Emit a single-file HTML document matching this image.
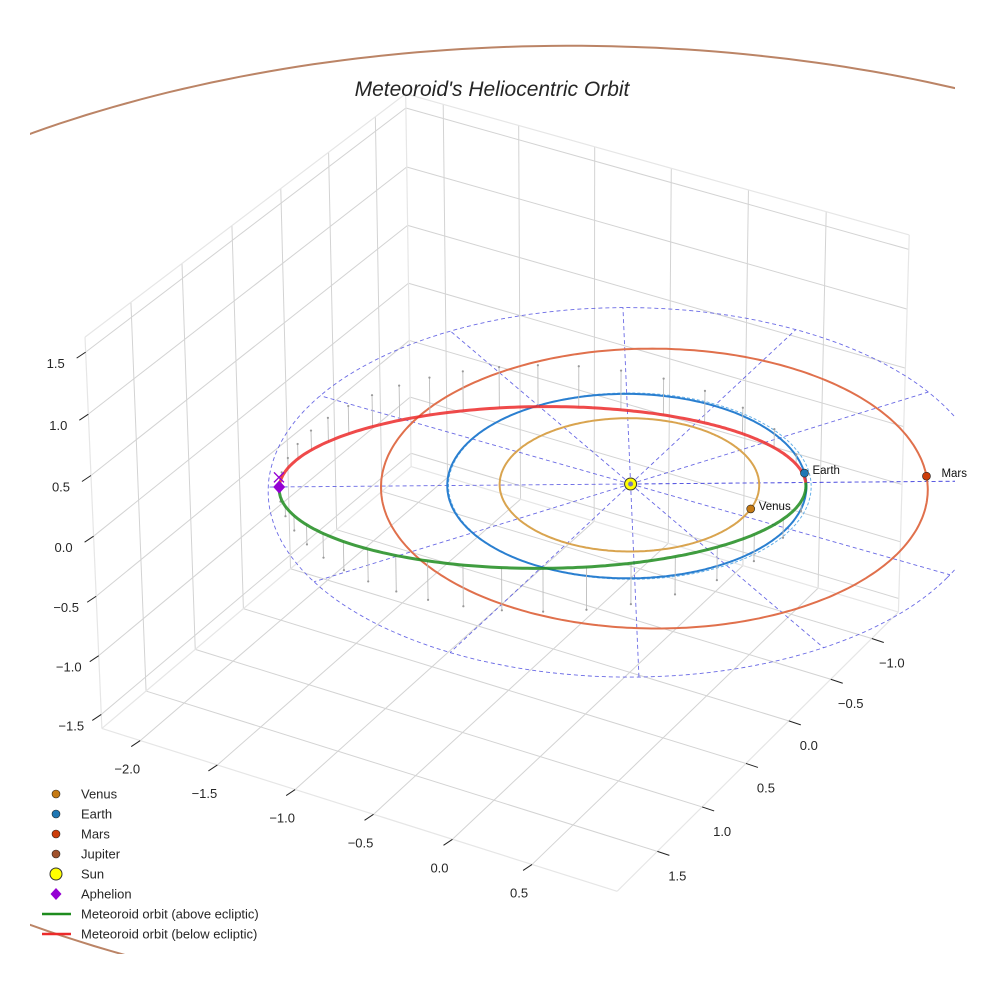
<!DOCTYPE html>
<html>
<head>
<meta charset="utf-8">
<style>
  html,body{margin:0;padding:0;background:#fff;overflow:hidden;}
  svg{display:block;font-family:"Liberation Sans",sans-serif;}
</style>
</head>
<body>
<svg id="chart" width="984" height="984" viewBox="0 0 984 984" xmlns="http://www.w3.org/2000/svg">
  <defs>
    <clipPath id="plotclip"><rect x="30" y="40" width="925" height="914"/></clipPath>
  </defs>
  <rect width="984" height="984" fill="#fff"/>
  <g id="grid"></g>
  <g id="axes"></g>
  <g id="scene" clip-path="url(#plotclip)"></g>
  <g id="labels"></g>
  <text x="492" y="96" text-anchor="middle" font-size="21" font-style="italic" fill="#262626">Meteoroid's Heliocentric Orbit</text>
  <g id="legend"></g>
</svg>
<script>
// ---- data ----
const xTicks = [-2.0, -1.5, -1.0, -0.5, 0.0, 0.5];
const yTicks = [-1.0, -0.5, 0.0, 0.5, 1.0, 1.5];
const zTicks = [-1.5, -1.0, -0.5, 0.0, 0.5, 1.0, 1.5];
const xLim = [-2.25, 1.03];
const yLim = [-1.33, 1.94];
const zLim = [-1.62, 1.62];

const planetNames = ["Venus", "Earth", "Mars", "Jupiter"];
const planetA = [0.723, 1.0, 1.524, 5.2];
const planetE = [0.0068, 0.0167, 0.0934, 0.048];
const planetPeri = [0, -31, 149, 0];        // longitude of perihelion (deg)
const planetAngle = [-8, -37, -33, 60];     // current heliocentric longitude (deg)
const planetLabeled = [true, true, true, false];
const planetMarker = ["#c57a14", "#1f77b4", "#cc3d0a", "#a0522d"];
const planetOrbitColor = ["#d9a44f", "#2a7fd0", "#e0704c", "#bb8466"];

const meteorQ = 0.98;      // perihelion distance (AU)
const meteorAph = 1.94;    // aphelion distance (AU)
const meteorIncl = 15;     // inclination (deg)
const meteorPeri = -31;    // longitude of perihelion (deg)
const dropCount = 40;

const refRadius = 2.0;
const refSpokes = [149, 179, 209, 239, 269, 299, 329, 359, 29, 59, 89, 119];

const legendLabels = ["Venus","Earth","Mars","Jupiter","Sun","Aphelion","Meteoroid orbit (above ecliptic)","Meteoroid orbit (below ecliptic)"];

// ---- camera calibration (box corners & reference points -> screen) ----
const c239=Math.cos(239*Math.PI/180), s239=Math.sin(239*Math.PI/180);
const c59=Math.cos(59*Math.PI/180), s59=Math.sin(59*Math.PI/180);
const c149=Math.cos(149*Math.PI/180), s149=Math.sin(149*Math.PI/180);
const calib = [
  [xLim[0], yLim[0], zLim[0], 405, 470],
  [xLim[1], yLim[0], zLim[0], 895, 613],
  [xLim[0], yLim[1], zLim[0], 99, 726],
  [xLim[1], yLim[1], zLim[0], 619, 895],
  [xLim[0], yLim[0], zLim[1], 400, 108],
  [xLim[1], yLim[0], zLim[1], 912, 232],
  [xLim[0], yLim[1], zLim[1], 81, 335],
  [0, 0, 0, 632, 482],
  [-2.0, yLim[1], zLim[0], 143, 739],
  [-1.0, yLim[1], zLim[0], 297, 790],
  [0.5, yLim[1], zLim[0], 540, 868],
  [xLim[1], -1.0, zLim[0], 864, 640],
  [2*c239, 2*s239, 0, 625, 310],
  [2*c59, 2*s59, 0, 636, 676],
  [1.94*c149, 1.94*s149, 0, 283, 482],
  [1.51*c239, 1.51*s239, 0, 627, 340],
  [5.3*c239, 5.3*s239, 0, 618, 44]
];
function solveCam(pts){
  const A=[],b=[];
  pts.forEach(([X,Y,Z,u,v])=>{
    A.push([X,Y,Z,1,0,0,0,0,-u*X,-u*Y,-u*Z]); b.push(u);
    A.push([0,0,0,0,X,Y,Z,1,-v*X,-v*Y,-v*Z]); b.push(v);
  });
  const n=11, N=[];
  for(let i=0;i<n;i++){N.push(new Array(n+1).fill(0));
    for(let j=0;j<n;j++){let s=0;for(let k=0;k<A.length;k++)s+=A[k][i]*A[k][j];N[i][j]=s;}
    let s=0;for(let k=0;k<A.length;k++)s+=A[k][i]*b[k];N[i][n]=s;}
  for(let c=0;c<n;c++){
    let p=c;for(let r=c+1;r<n;r++)if(Math.abs(N[r][c])>Math.abs(N[p][c]))p=r;
    [N[c],N[p]]=[N[p],N[c]];
    for(let r=0;r<n;r++){if(r===c)continue;const f=N[r][c]/N[c][c];for(let k=c;k<=n;k++)N[r][k]-=f*N[c][k];}
  }
  return N.map((row,i)=>row[n]/row[i]);
}
const P = solveCam(calib);
function proj(X,Y,Z){
  const w=P[8]*X+P[9]*Y+P[10]*Z+1;
  return [(P[0]*X+P[1]*Y+P[2]*Z+P[3])/w,(P[4]*X+P[5]*Y+P[6]*Z+P[7])/w];
}
const NS="http://www.w3.org/2000/svg";
function mk(tag,attrs,parent){const e=document.createElementNS(NS,tag);for(const k in attrs)e.setAttribute(k,attrs[k]);parent.appendChild(e);return e;}
function ptsStr(arr){return arr.map(p=>p[0].toFixed(1)+","+p[1].toFixed(1)).join(" ");}
const D=Math.PI/180;

// ---- grid ----
const grid=document.getElementById('grid');
function gline(a,b,name,col,w){
  const p1=proj(...a),p2=proj(...b);
  const l=mk('line',{x1:p1[0],y1:p1[1],x2:p2[0],y2:p2[1],stroke:col||'#d3d3d3','stroke-width':w||1},grid);
  
  
}
const [x0,x1]=xLim,[y0,y1]=yLim,[z0,z1]=zLim;
xTicks.forEach(x=>{gline([x,y0,z0],[x,y1,z0],'floor-gridline-x');gline([x,y0,z0],[x,y0,z1],'wall-gridline-x');});
yTicks.forEach(y=>{gline([x0,y,z0],[x1,y,z0],'floor-gridline-y');gline([x0,y,z0],[x0,y,z1],'wall-gridline-y');});
zTicks.forEach(z=>{gline([x0,y0,z],[x1,y0,z],'wall-gridline-z');gline([x0,y0,z],[x0,y1,z],'wall-gridline-z');});
[[[x0,y0,z1],[x1,y0,z1]],[[x0,y0,z1],[x0,y1,z1]],[[x0,y0,z0],[x0,y0,z1]],[[x1,y0,z0],[x1,y0,z1]],[[x0,y1,z0],[x0,y1,z1]],
 [[x0,y1,z0],[x1,y1,z0]],[[x1,y0,z0],[x1,y1,z0]],[[x0,y0,z0],[x1,y0,z0]],[[x0,y0,z0],[x0,y1,z0]]].forEach(e=>gline(e[0],e[1],'pane-edge','#e6e6e6',1.2));

// ---- axis ticks & labels ----
const axes=document.getElementById('axes');
function tick(p,d,lab,off,name){
  const a=proj(...p);
  const t=mk('line',{x1:a[0],y1:a[1],x2:a[0]+d[0],y2:a[1]+d[1],stroke:'#222','stroke-width':1},axes);
  
  
  const tx=mk('text',{x:a[0]+off[0],y:a[1]+off[1]+5,'text-anchor':'middle','font-size':13,fill:'#262626'},axes);
  tx.textContent=lab.toFixed(1).replace('-','\u2212');
  
  
}
xTicks.forEach(x=>tick([x,y1,z0],[-9,6],x,[-13,28],'x-axis'));
yTicks.forEach(y=>tick([x1,y,z0],[12,4],y,[20,24],'y-axis'));
zTicks.forEach(z=>tick([x0,y1,z],[-9,6],z,[-30,11],'z-axis'));

// ---- scene ----
const scene=document.getElementById('scene');
const labelsG=document.getElementById('labels');
function orbitPts(a,e,peri,n){
  const out=[];for(let k=0;k<=n;k++){const th=k/n*360;const r=a*(1-e*e)/(1+e*Math.cos((th-peri)*D));
    out.push(proj(r*Math.cos(th*D),r*Math.sin(th*D),0));}return out;
}
let ref=mk('polyline',{points:ptsStr(orbitPts(refRadius,0,0,240)),fill:'none',stroke:'#5050e0','stroke-width':0.9,'stroke-dasharray':'4,3',opacity:0.85},scene);


refSpokes.forEach(ang=>{
  const a=proj(0,0,0),b=proj(refRadius*Math.cos(ang*D),refRadius*Math.sin(ang*D),0);
  const l=mk('line',{x1:a[0],y1:a[1],x2:b[0],y2:b[1],stroke:'#5050e0','stroke-width':0.9,'stroke-dasharray':'4,3',opacity:0.85},scene);
  
  
});
{const a=proj(0,0,0),b=proj(2.6*Math.cos(meteorPeri*D),2.6*Math.sin(meteorPeri*D),0);
 const l=mk('line',{x1:a[0],y1:a[1],x2:b[0],y2:b[1],stroke:'#5050e0','stroke-width':0.9,'stroke-dasharray':'4,3',opacity:0.85},scene);
 
 }
let ed=mk('polyline',{points:ptsStr(orbitPts(1.01,0,0,240)),fill:'none',stroke:'#66b0e8','stroke-width':1,'stroke-dasharray':'3,2'},scene);


planetNames.forEach((nm,i)=>{
  const o=mk('polyline',{points:ptsStr(orbitPts(planetA[i],planetE[i],planetPeri[i],360)),fill:'none',stroke:planetOrbitColor[i],'stroke-width':2},scene);
  
  
});
const mA=(meteorQ+meteorAph)/2, mE=(meteorAph-meteorQ)/(meteorAph+meteorQ);
function mPos(nu){
  const r=mA*(1-mE*mE)/(1+mE*Math.cos(nu));
  const w=meteorPeri*D,i=meteorIncl*D;
  const px=r*Math.cos(nu),qy=r*Math.sin(nu);
  return [px*Math.cos(w)-qy*Math.cos(i)*Math.sin(w), px*Math.sin(w)+qy*Math.cos(i)*Math.cos(w), qy*Math.sin(i)];
}
for(let k=0;k<dropCount;k++){
  const M=k/dropCount*2*Math.PI;let E=M;for(let it=0;it<30;it++)E=E-(E-mE*Math.sin(E)-M)/(1-mE*Math.cos(E));
  const nu=2*Math.atan2(Math.sqrt(1+mE)*Math.sin(E/2),Math.sqrt(1-mE)*Math.cos(E/2));
  const p=mPos(nu);const a=proj(p[0],p[1],p[2]),b=proj(p[0],p[1],0);
  const l=mk('line',{x1:a[0],y1:a[1],x2:b[0],y2:b[1],stroke:'#bdbdbd','stroke-width':0.9},scene);
  
  
  const d=mk('circle',{cx:b[0],cy:b[1],r:1.1,fill:'#999'},scene);
  
  
}
const above=[],below=[];
for(let k=0;k<=180;k++){above.push(proj(...mPos(k*D)));}
for(let k=180;k<=360;k++){below.push(proj(...mPos(k*D)));}
let ga=mk('polyline',{points:ptsStr(above),fill:'none',stroke:'#1e8c1e','stroke-width':3,opacity:0.85},scene);


let gb=mk('polyline',{points:ptsStr(below),fill:'none',stroke:'#ec2a2a','stroke-width':3,opacity:0.85},scene);


planetNames.forEach((nm,i)=>{
  const th=planetAngle[i]*D;const r=planetA[i]*(1-planetE[i]**2)/(1+planetE[i]*Math.cos(th-planetPeri[i]*D));
  const p=proj(r*Math.cos(th),r*Math.sin(th),0);
  const c=mk('circle',{cx:p[0],cy:p[1],r:4,fill:planetMarker[i],stroke:'#222','stroke-width':0.6},scene);
  
  
  if(planetLabeled[i]){
    const t=mk('text',{x:p[0]+(nm==='Mars'?15:8),y:p[1]+1,'font-size':11.5,fill:'#111'},labelsG);
    t.textContent=nm;
    
    
  }
});
{const s=proj(0,0,0);
 const c=mk('circle',{cx:s[0],cy:s[1],r:6,fill:'#ffff00',stroke:'#333','stroke-width':1},scene);
 
 
 const c2=mk('circle',{cx:s[0],cy:s[1],r:2.5,fill:'#5a5ad8',opacity:0.8},scene);
 
 }
{const p=mPos(Math.PI);const a=proj(p[0],p[1],p[2]);
 const dm=mk('polygon',{points:`${a[0]},${a[1]-6.5} ${a[0]+6},${a[1]} ${a[0]},${a[1]+6.5} ${a[0]-6},${a[1]}`,fill:'#9400d3'},scene);
 
 
 const xb=proj(p[0],p[1],0.08);
 const xm=mk('path',{d:`M${xb[0]-5},${xb[1]-5}L${xb[0]+5},${xb[1]+5}M${xb[0]+5},${xb[1]-5}L${xb[0]-5},${xb[1]+5}`,stroke:'#9400d3','stroke-width':1.3},scene);
 
 }

// ---- legend ----
const leg=document.getElementById('legend');
legendLabels.forEach((lab,i)=>{
  const y=794+i*20;
  const g=mk('g',{},leg);
  
  
  if(i<4) mk('circle',{cx:56,cy:y,r:4,fill:planetMarker[i],stroke:'#222','stroke-width':0.6},g);
  else if(i===4) mk('circle',{cx:56,cy:y,r:6,fill:'#ffff00',stroke:'#333','stroke-width':1},g);
  else if(i===5) mk('polygon',{points:`56,${y-6} 61.5,${y} 56,${y+6} 50.5,${y}`,fill:'#9400d3'},g);
  else mk('line',{x1:42,y1:y,x2:71,y2:y,stroke:i===6?'#1e8c1e':'#ec2a2a','stroke-width':2.5},g);
  const t=mk('text',{x:81,y:y+4.5,'font-size':13,fill:'#262626'},g);
  t.textContent=lab;
});
</script>
</body>
</html>
